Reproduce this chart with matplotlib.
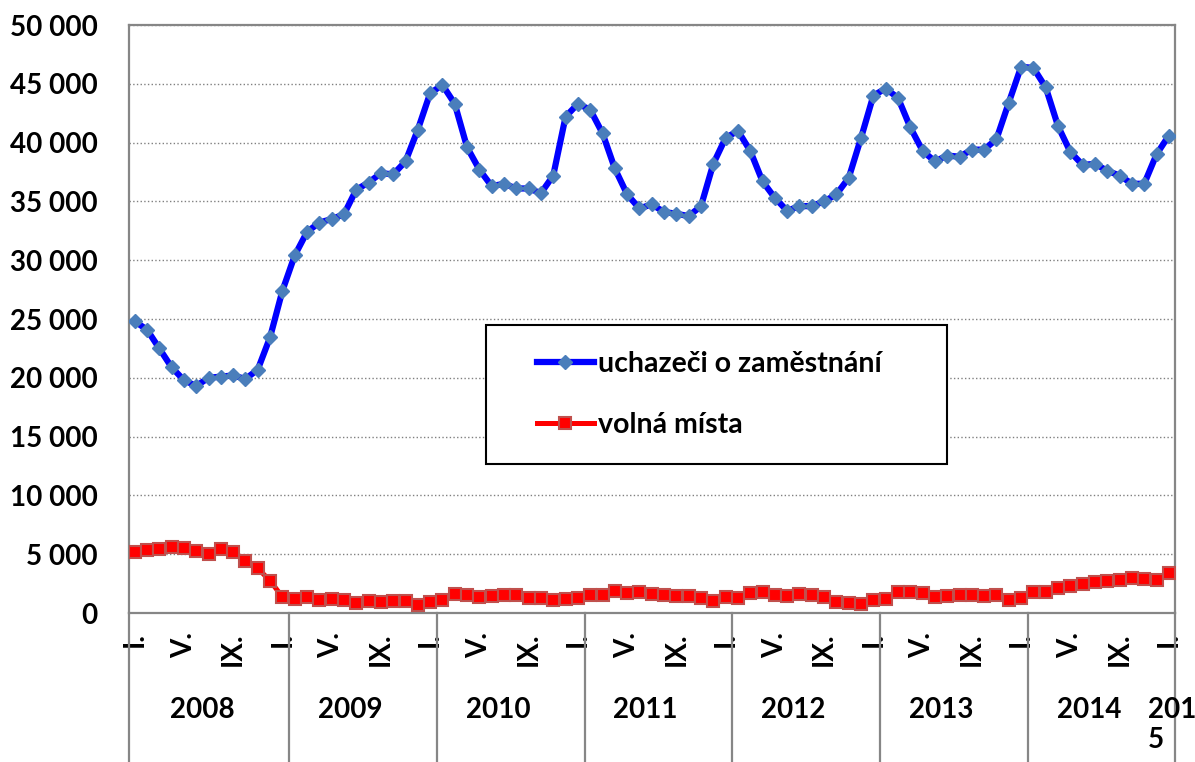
import numpy as np
import matplotlib
matplotlib.use("Agg")
import matplotlib.pyplot as plt
import matplotlib.transforms as mtransforms
from matplotlib.ticker import FuncFormatter
from matplotlib.patches import Rectangle

# monthly values, I.2008 - I.2015
uchazeci = [24800, 24100, 22500, 20900, 19800, 19300, 20000, 20100, 20200, 19900, 20700, 23450,
            27400, 30400, 32400, 33200, 33500, 33900, 36000, 36600, 37400, 37300, 38400, 41100,
            44200, 44900, 43300, 39600, 37700, 36300, 36500, 36100, 36100, 35700, 37200, 42200,
            43300, 42800, 40800, 37800, 35600, 34400, 34750, 34100, 33950, 33750, 34600, 38200,
            40400, 41000, 39300, 36700, 35300, 34200, 34600, 34600, 35000, 35600, 37000, 40400,
            44000, 44600, 43800, 41300, 39300, 38400, 38900, 38800, 39400, 39400, 40300, 43400,
            46450, 46350, 44700, 41400, 39200, 38100, 38200, 37600, 37200, 36500, 36500, 39000,
            40600]
volna = [5170, 5370, 5430, 5570, 5490, 5290, 5000, 5430, 5200, 4460, 3800, 2740,
         1370, 1230, 1370, 1090, 1230, 1090, 860, 1000, 940, 1000, 1000, 710,
         940, 1090, 1600, 1510, 1370, 1460, 1570, 1490, 1290, 1310, 1140, 1170,
         1290, 1510, 1510, 1860, 1710, 1780, 1600, 1510, 1430, 1430, 1310, 1030,
         1370, 1310, 1710, 1800, 1510, 1430, 1600, 1570, 1370, 940, 890, 740,
         1090, 1230, 1800, 1800, 1710, 1370, 1430, 1510, 1510, 1430, 1510, 1090,
         1290, 1800, 1800, 2110, 2310, 2460, 2600, 2740, 2800, 2940, 2860, 2800,
         3370]
month_labels = ["I.", "V.", "IX."]
years = ["2008", "2009", "2010", "2011", "2012", "2013", "2014", "201\n5"]

plt.rcParams['font.family'] = ['Lato', 'DejaVu Sans']
plt.rcParams['font.weight'] = 'bold'

fig = plt.figure(figsize=(11.95, 7.62), dpi=100)
ax = fig.add_axes([128.5 / 1195, 1 - 613 / 762, 1046.5 / 1195, 588 / 762])

x = np.arange(len(uchazeci))
ax.plot(x, uchazeci, color='#0000FF', lw=4.5, marker='D', ms=7.5,
        mfc='#4A7EBB', mec='#4A7EBB', label='uchazeči o zaměstnání', zorder=3)
ax.plot(x, volna, color='#FF0000', lw=3.6, marker='s', ms=8,
        mfc='#FF0000', mec='#C0504D', mew=1.5, label='volná místa', zorder=3)

# y axis
ax.set_ylim(0, 50000)
ax.set_yticks(range(0, 50001, 5000))
ax.yaxis.set_major_formatter(FuncFormatter(lambda v, p: f"{int(v):,}".replace(",", " ")))
ax.tick_params(axis='y', length=0, pad=22, labelsize=20)
ax.grid(axis='y', ls=':', color='#808080', lw=1)

# x axis: months
ax.set_xlim(-0.5, 84.5)
ticks = x[::4]
ax.set_xticks(ticks)
ax.set_xticklabels([month_labels[k % 3] for k in range(len(ticks))], rotation=90)
ax.tick_params(axis='x', length=0, pad=14, labelsize=20)

for s in ax.spines.values():
    s.set_color('#868686')
    s.set_linewidth(1.6)

# year groups below the axis
trans = mtransforms.blended_transform_factory(ax.transData, ax.transAxes)
seps = [-0.5] + [12 * k + 0.55 for k in range(1, 7)] + [84.5]
for b in seps:
    ax.plot([b, b], [0, -0.26], transform=trans, clip_on=False, color='#868686', lw=1.6)
for k, yr in enumerate(years):
    if k < 7:
        ax.text(12 * k + 5.5, -0.165, yr, transform=trans, ha='center', va='center', fontsize=20)
    else:
        ax.text(82.3, -0.143, yr, transform=trans, ha='left', va='top', fontsize=20,
                multialignment='left')

# legend with its own frame
ax.add_patch(Rectangle((0.3416, 0.2534), 0.4405, 0.2364, transform=ax.transAxes,
                       fc='white', ec='black', lw=1.5, zorder=4))
ax.legend(loc='center left', bbox_to_anchor=(0.3903, 0.3716), frameon=False,
          borderpad=0, borderaxespad=0, handlelength=2.0, handletextpad=0.15,
          labelspacing=1.25, numpoints=1, fontsize=20.5).set_zorder(5)

fig.savefig("out.png", dpi=100)
